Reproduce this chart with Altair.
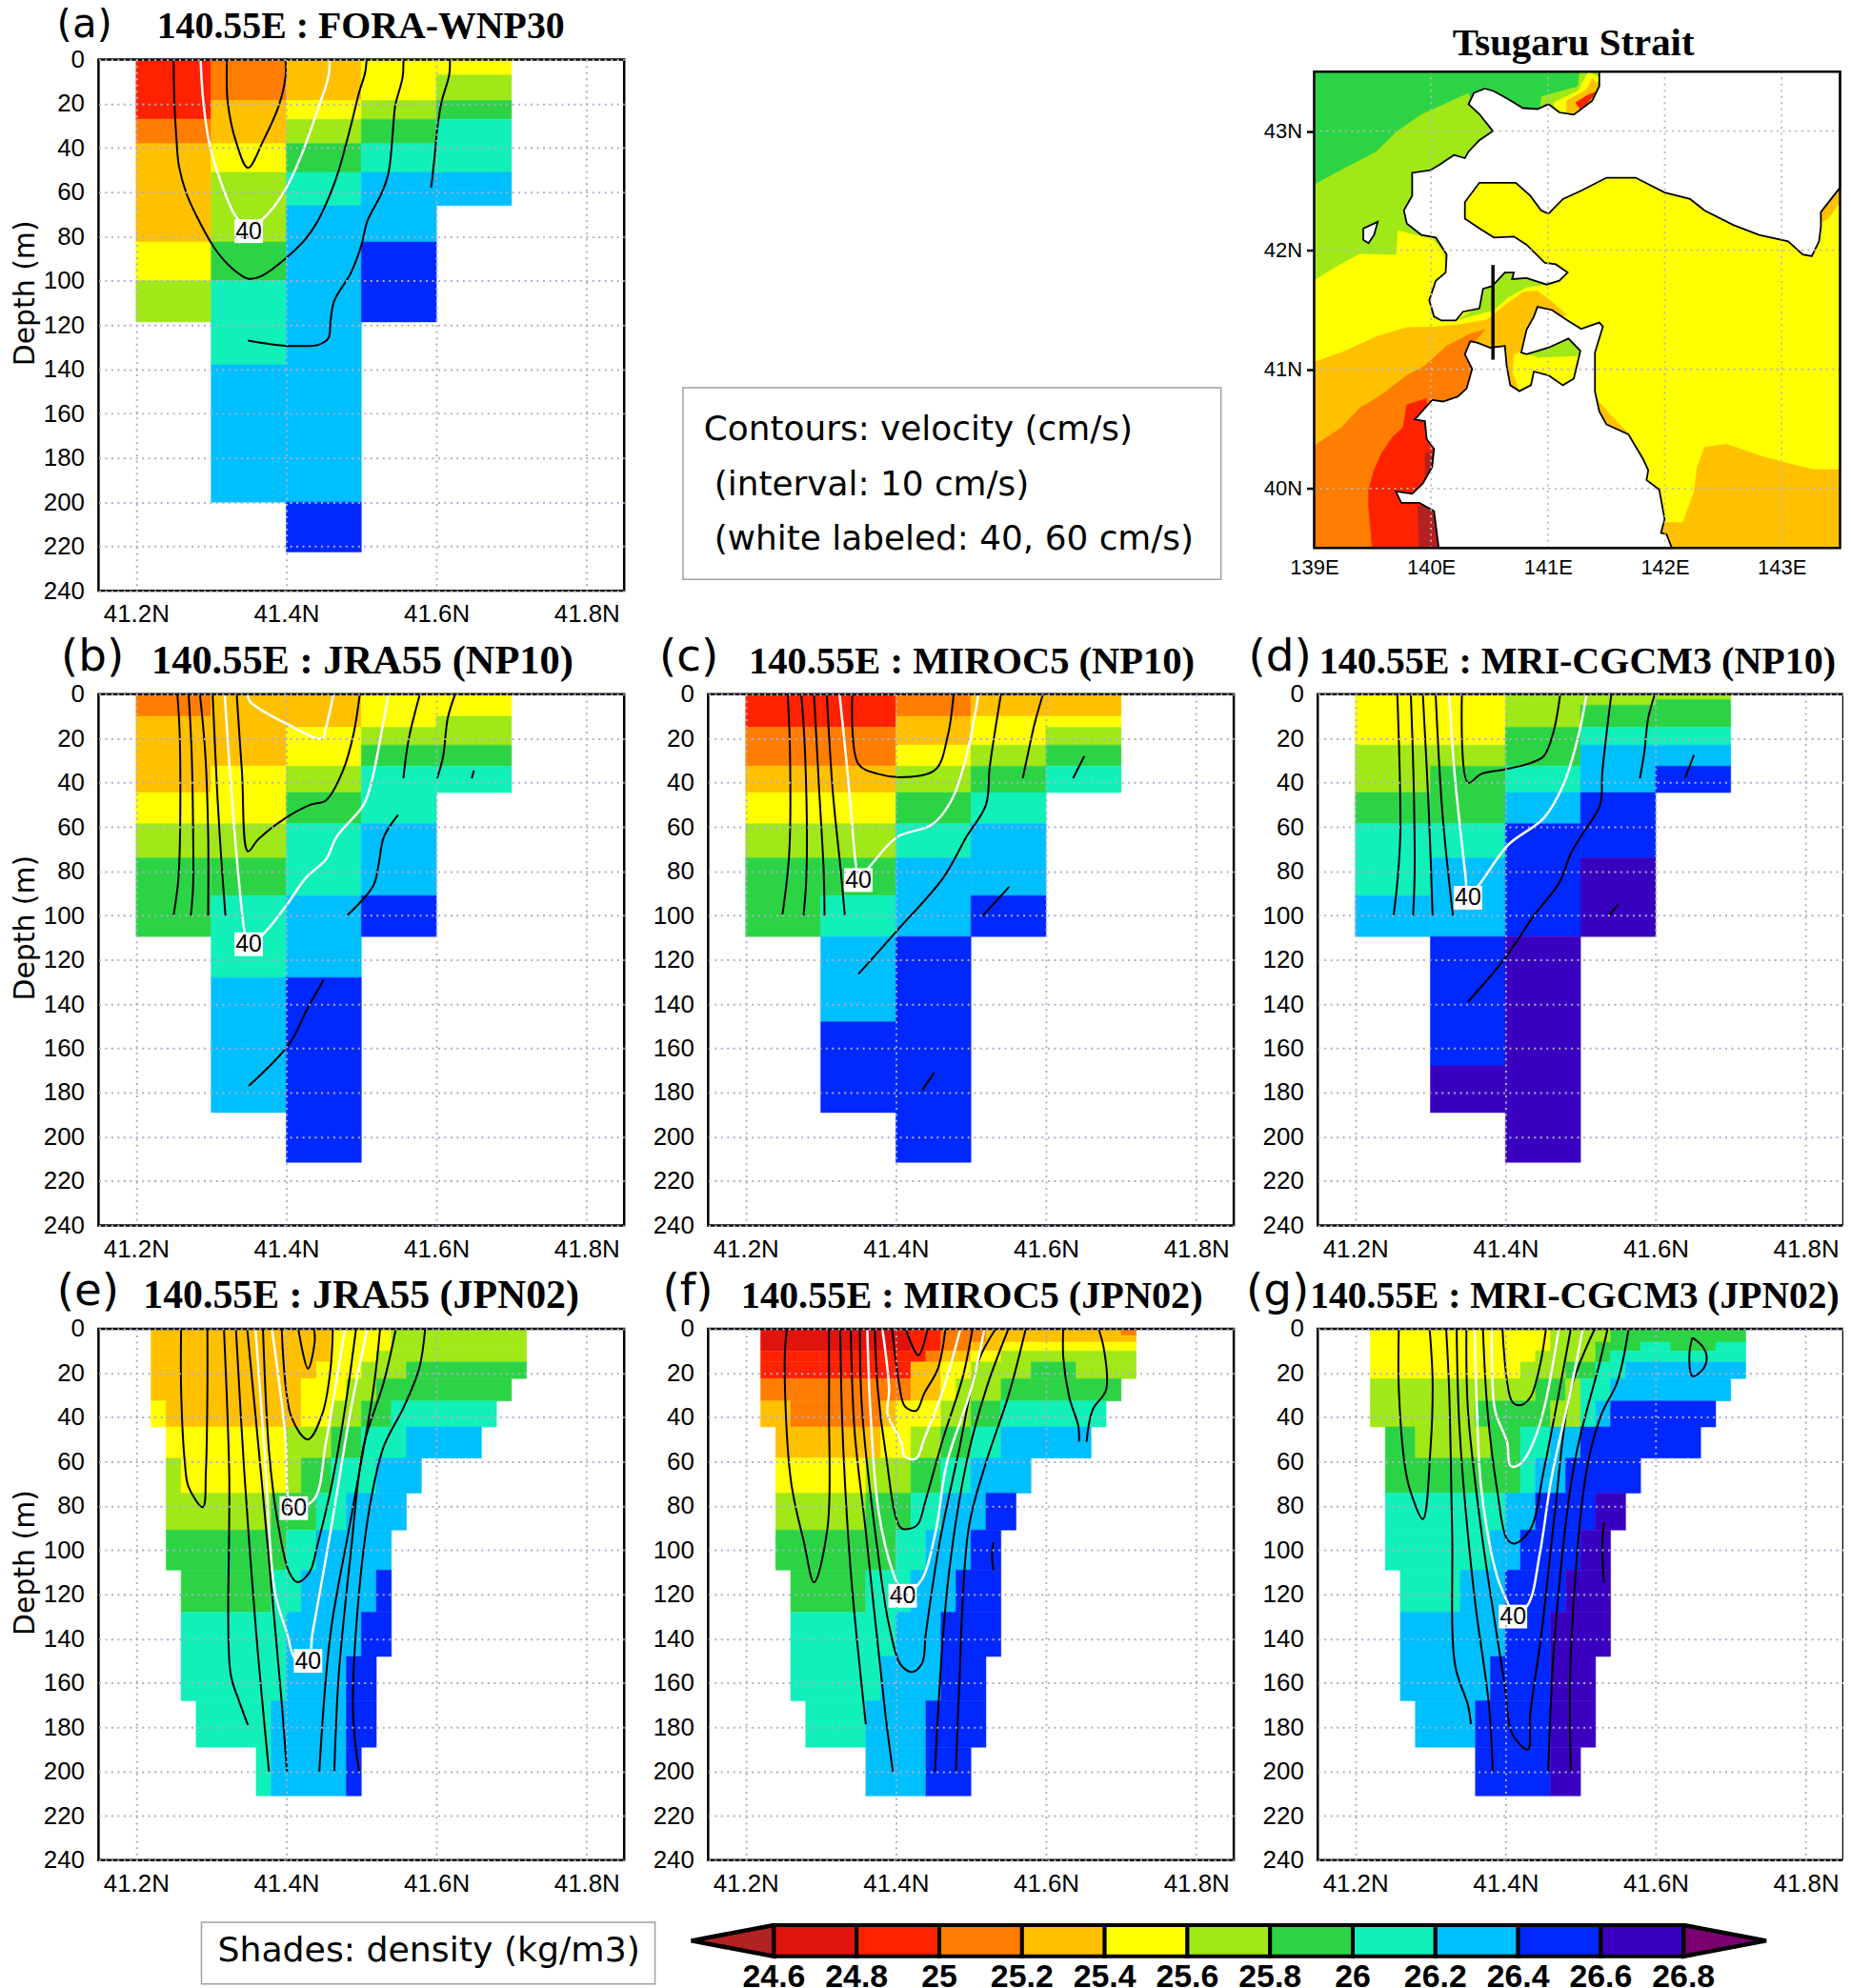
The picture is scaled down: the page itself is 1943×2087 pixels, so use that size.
import altair as alt
import pandas as pd

# density classes
DR, R, O, A, Y, L, G, T, S, B, I = 1, 2, 3, 4, 5, 6, 7, 8, 9, 10, 11
BRICK, PURPLE = 0, 12
CLASS_IDS = list(range(13))
CLASS_COLORS = ["#B22222", "#E0140F", "#FF2200", "#FF7D00", "#FFC000", "#FFFF00", "#A0E818",
                "#2CD445", "#10F0B8", "#00BFFF", "#0028FF", "#3A00C0", "#7B0070"]
BAR_EDGES = [24.6, 24.8, 25.0, 25.2, 25.4, 25.6, 25.8, 26.0, 26.2, 26.4, 26.6, 26.8]
BAR_LABELS = ["24.6", "24.8", "25", "25.2", "25.4", "25.6", "25.8", "26", "26.2", "26.4", "26.6", "26.8"]

# --- panel shading: columns (lat0, lat1, depth edges, classes)
A_COLS = [
    (41.2, 41.3, [0, 27, 38, 82.5, 100, 118.6], [R, O, A, Y, L]),
    (41.3, 41.4, [0, 18.6, 38, 51, 82.5, 100, 138, 200], [O, A, Y, L, G, T, S]),
    (41.4, 41.5, [0, 18.6, 27, 38, 51, 66, 200, 222.5], [A, Y, L, G, T, S, B]),
    (41.5, 41.6, [0, 18.6, 27, 38, 51, 82.5, 118.6], [Y, L, G, T, S, B]),
    (41.6, 41.7, [0, 7, 18.6, 27, 51, 66], [Y, L, G, T, S]),
]
B_COLS = [
    (41.2, 41.3, [0, 10, 44.5, 58.5, 74, 109.5], [O, A, Y, L, G]),
    (41.3, 41.4, [0, 32.5, 58.5, 74, 91, 128, 189], [A, Y, L, G, T, S]),
    (41.4, 41.5, [0, 15, 32.5, 44.5, 58.5, 91, 128, 211.5], [A, Y, L, G, T, S, B]),
    (41.5, 41.6, [0, 15, 23, 32.5, 58.5, 91, 109.5], [Y, L, G, T, S, B]),
    (41.6, 41.7, [0, 10, 23, 32.5, 44.5], [Y, L, G, T]),
]
C_COLS = [
    (41.2, 41.3, [0, 15, 32.5, 44.5, 58.5, 74, 109.5], [R, O, A, Y, L, G]),
    (41.3, 41.4, [0, 15, 32.5, 44.5, 58.5, 74, 91, 109.5, 148, 189], [R, O, A, Y, L, G, T, S, B]),
    (41.4, 41.5, [0, 10, 23, 32.5, 44.5, 58.5, 74, 109.5, 211.5], [O, A, Y, L, G, T, S, B]),
    (41.5, 41.6, [0, 10, 23, 32.5, 44.5, 58.5, 91, 109.5], [A, Y, L, G, T, S, B]),
    (41.6, 41.7, [0, 10, 15, 23, 32.5, 44.5], [A, Y, L, G, T]),
]
D_COLS = [
    (41.2, 41.3, [0, 23, 44.5, 58.5, 91, 109.5], [Y, L, G, T, S]),
    (41.3, 41.4, [0, 23, 32.5, 58.5, 74, 109.5, 168, 189], [Y, L, G, T, S, B, I]),
    (41.4, 41.5, [0, 15, 32.5, 44.5, 58.5, 109.5, 211.5], [L, G, T, S, B, I]),
    (41.5, 41.6, [0, 5, 15, 23, 44.5, 74, 109.5], [L, G, T, S, B, I]),
    (41.6, 41.7, [0, 2.5, 15, 23, 32.5, 44.5], [L, G, T, S, B]),
]
# --- rows (depth0, depth1, lat edges, classes)
E_ROWS = [
    (0, 10, [41.22, 41.46, 41.54, 41.72], [A, Y, L]),
    (10, 15, [41.22, 41.46, 41.52, 41.72], [A, Y, L]),
    (15, 22.5, [41.22, 41.44, 41.50, 41.56, 41.72], [A, Y, L, G]),
    (22.5, 32.6, [41.22, 41.42, 41.48, 41.52, 41.70], [A, Y, L, G]),
    (32.6, 44.3, [41.22, 41.24, 41.42, 41.46, 41.50, 41.54, 41.68], [Y, A, Y, L, G, T]),
    (44.3, 58.4, [41.24, 41.40, 41.46, 41.50, 41.56, 41.66], [Y, L, G, T, S]),
    (58.4, 74.2, [41.24, 41.26, 41.40, 41.42, 41.46, 41.52, 41.58], [L, Y, L, G, T, S]),
    (74.2, 90.9, [41.24, 41.38, 41.44, 41.48, 41.56], [L, G, T, S]),
    (90.9, 109, [41.24, 41.40, 41.44, 41.54], [G, T, S]),
    (109, 128, [41.26, 41.38, 41.42, 41.52, 41.54], [G, T, S, B]),
    (128, 148, [41.26, 41.40, 41.50, 41.54], [T, S, B]),
    (148, 168, [41.26, 41.40, 41.48, 41.52], [T, S, B]),
    (168, 189, [41.28, 41.38, 41.48, 41.52], [T, S, B]),
    (189, 211, [41.36, 41.38, 41.48, 41.50], [T, S, B]),
]
F_ROWS = [
    (0, 3, [41.22, 41.42, 41.46, 41.52, 41.70, 41.72], [DR, R, O, A, O]),
    (3, 6, [41.22, 41.42, 41.46, 41.52, 41.72], [DR, R, O, A]),
    (6, 10, [41.22, 41.42, 41.46, 41.50, 41.54, 41.72], [DR, R, O, A, Y]),
    (10, 15, [41.22, 41.44, 41.46, 41.50, 41.54, 41.72], [R, O, A, Y, L]),
    (15, 22.5, [41.22, 41.42, 41.46, 41.50, 41.58, 41.64, 41.72], [R, A, Y, L, G, L]),
    (22.5, 32.6, [41.22, 41.42, 41.46, 41.48, 41.54, 41.70], [O, A, Y, L, G]),
    (32.6, 44.3, [41.22, 41.26, 41.38, 41.40, 41.46, 41.50, 41.54, 41.68], [A, O, A, Y, L, G, T]),
    (44.3, 58.4, [41.24, 41.38, 41.42, 41.46, 41.50, 41.54, 41.66], [A, Y, L, G, T, S]),
    (58.4, 74.2, [41.24, 41.36, 41.42, 41.46, 41.50, 41.58], [Y, L, G, T, S]),
    (74.2, 90.9, [41.24, 41.36, 41.42, 41.46, 41.52, 41.56], [L, G, T, S, B]),
    (90.9, 109, [41.24, 41.40, 41.44, 41.50, 41.54], [G, T, S, B]),
    (109, 128, [41.26, 41.36, 41.42, 41.48, 41.54], [G, T, S, B]),
    (128, 148, [41.26, 41.40, 41.46, 41.54], [T, S, B]),
    (148, 168, [41.26, 41.38, 41.46, 41.52], [T, S, B]),
    (168, 189, [41.28, 41.36, 41.44, 41.52], [T, S, B]),
    (189, 211, [41.36, 41.44, 41.50], [S, B]),
]
G_ROWS = [
    (0, 6, [41.22, 41.46, 41.54, 41.72], [Y, L, G]),
    (6, 10, [41.22, 41.46, 41.52, 41.58, 41.62, 41.68, 41.72], [Y, L, G, T, G, T]),
    (10, 15, [41.22, 41.44, 41.52, 41.54, 41.72], [Y, L, G, T]),
    (15, 22.5, [41.22, 41.42, 41.48, 41.52, 41.56, 41.72], [Y, L, G, T, S]),
    (22.5, 32.6, [41.22, 41.44, 41.48, 41.50, 41.54, 41.70], [L, G, L, T, S]),
    (32.6, 44.3, [41.22, 41.36, 41.46, 41.50, 41.52, 41.54, 41.68], [L, G, L, T, S, B]),
    (44.3, 58.4, [41.24, 41.28, 41.38, 41.42, 41.46, 41.50, 41.66], [G, L, G, T, S, B]),
    (58.4, 74.2, [41.24, 41.42, 41.44, 41.48, 41.58], [G, T, S, B]),
    (74.2, 90.9, [41.24, 41.40, 41.44, 41.52, 41.56], [T, S, B, I]),
    (90.9, 109, [41.24, 41.38, 41.42, 41.50, 41.54], [T, S, B, I]),
    (109, 128, [41.26, 41.34, 41.40, 41.48, 41.54], [T, S, B, I]),
    (128, 148, [41.26, 41.40, 41.46, 41.54], [S, B, I]),
    (148, 168, [41.26, 41.38, 41.46, 41.52], [S, B, I]),
    (168, 189, [41.28, 41.36, 41.46, 41.52], [S, B, I]),
    (189, 211, [41.36, 41.46, 41.50], [B, I]),
]

# --- contours (lat, depth)
A_BLACK = [
    [(41.25, 0), (41.251, 19), (41.254, 37), (41.257, 48), (41.267, 60.5), (41.284, 73), (41.306, 86), (41.328, 94.4), (41.349, 99), (41.366, 98), (41.399, 90), (41.426, 81), (41.442, 73), (41.459, 60.5), (41.47, 50), (41.486, 30), (41.497, 15), (41.505, 6), (41.507, 0)],
    [(41.321, 0), (41.322, 19), (41.333, 37), (41.349, 49), (41.369, 37), (41.39, 21), (41.399, 8), (41.399, 0)],
    [(41.556, 0), (41.555, 8), (41.545, 21), (41.543, 28), (41.541, 37), (41.536, 51.5), (41.527, 60.5), (41.508, 73), (41.5, 84), (41.486, 96.5), (41.464, 109), (41.459, 118), (41.456, 126), (41.442, 129), (41.421, 129.5), (41.388, 129), (41.349, 127)],
    [(41.618, 0), (41.617, 7), (41.607, 19), (41.601, 31.5), (41.598, 42.5), (41.593, 58)],
]
A_WHITE = [[(41.286, 0), (41.289, 17), (41.297, 37), (41.311, 53.5), (41.333, 71), (41.35, 76), (41.369, 72), (41.399, 58.7), (41.421, 42.5), (41.442, 22.6), (41.456, 8), (41.458, 0)]]
A_LABELS = [(41.35, 77.6, "40")]

B_BLACK = [
    [(41.255, 0), (41.258, 17), (41.259, 44), (41.258, 72), (41.256, 85), (41.25, 100)],
    [(41.27, 0), (41.274, 26), (41.276, 63), (41.276, 86.5), (41.273, 100)],
    [(41.285, 0), (41.292, 26), (41.296, 63), (41.296, 100)],
    [(41.302, 0), (41.308, 44), (41.313, 72), (41.319, 100)],
    [(41.334, 0), (41.341, 35), (41.349, 71), (41.363, 65.5), (41.399, 56), (41.432, 50), (41.453, 48), (41.475, 35), (41.489, 19), (41.498, 0)],
    [(41.578, 0), (41.563, 20.5), (41.556, 38)],
    [(41.625, 0), (41.615, 11), (41.609, 28), (41.601, 38)],
    [(41.65, 34.5), (41.647, 38)],
    [(41.549, 54.5), (41.53, 64.5), (41.523, 77), (41.516, 86.5), (41.481, 100)],
    [(41.45, 129), (41.429, 141.5), (41.404, 158), (41.35, 177)],
]
B_WHITE = [
    [(41.318, 0), (41.325, 35), (41.336, 81), (41.345, 108.5), (41.349, 113), (41.369, 108.5), (41.399, 96), (41.426, 83), (41.453, 74.6), (41.467, 64.5), (41.503, 50), (41.514, 39), (41.527, 17), (41.536, 0)],
    [(41.349, 0), (41.351, 3), (41.404, 14), (41.448, 20), (41.453, 15), (41.463, 0)],
]
B_LABELS = [(41.35, 113, "40")]

C_BLACK = [
    [(41.256, 0), (41.259, 26), (41.258, 72), (41.249, 99.5)],
    [(41.274, 0), (41.279, 26), (41.281, 81), (41.277, 100)],
    [(41.291, 0), (41.298, 44), (41.304, 81), (41.305, 100)],
    [(41.308, 0), (41.316, 44), (41.327, 81), (41.332, 100)],
    [(41.342, 0), (41.35, 31.5), (41.376, 36), (41.412, 37.5), (41.453, 34), (41.469, 19), (41.477, 0)],
    [(41.54, 0), (41.525, 33), (41.52, 50), (41.494, 64.5), (41.463, 83), (41.402, 106.7), (41.35, 126.5)],
    [(41.596, 0), (41.585, 13), (41.574, 30), (41.569, 38)],
    [(41.651, 28), (41.636, 38)],
    [(41.551, 87), (41.516, 100)],
    [(41.451, 171), (41.435, 179)],
]
C_WHITE = [[(41.325, 0), (41.335, 33), (41.347, 78), (41.35, 84), (41.365, 78), (41.402, 64.5), (41.448, 59), (41.474, 48), (41.494, 28), (41.51, 0)]]
C_LABELS = [(41.35, 84, "40")]

D_BLACK = [
    [(41.256, 0), (41.26, 63), (41.256, 85), (41.251, 100)],
    [(41.274, 0), (41.278, 44), (41.279, 81), (41.277, 100)],
    [(41.29, 0), (41.298, 53.5), (41.303, 100)],
    [(41.307, 0), (41.316, 53.5), (41.33, 100)],
    [(41.342, 0), (41.35, 40), (41.368, 36), (41.399, 34), (41.43, 31.5), (41.451, 28), (41.464, 17), (41.473, 0)],
    [(41.541, 0), (41.529, 35), (41.526, 50), (41.503, 63), (41.487, 72), (41.472, 85), (41.438, 100), (41.399, 119.5), (41.35, 139)],
    [(41.599, 0), (41.59, 11), (41.585, 26), (41.579, 38)],
    [(41.651, 27.5), (41.639, 38)],
    [(41.55, 95), (41.538, 100)],
]
D_WHITE = [[(41.325, 0), (41.332, 35), (41.347, 83), (41.35, 92), (41.366, 85.6), (41.404, 68), (41.451, 56), (41.477, 41), (41.497, 19), (41.508, 0)]]
D_LABELS = [(41.35, 92, "40")]

E_BLACK = [
    [(41.26, 0), (41.26, 27.5), (41.265, 60.5), (41.27, 71.5), (41.289, 80.6), (41.293, 64), (41.295, 27.5), (41.295, 0)],
    [(41.317, 0), (41.324, 64), (41.326, 156), (41.336, 167), (41.349, 179)],
    [(41.333, 0), (41.344, 64), (41.36, 137.5), (41.377, 200)],
    [(41.348, 0), (41.366, 64), (41.393, 165), (41.401, 200)],
    [(41.394, 0), (41.407, 40), (41.429, 50), (41.448, 38.5), (41.459, 18), (41.462, 0)],
    [(41.416, 0), (41.429, 18), (41.438, 5.5), (41.437, 0)],
    [(41.369, 0), (41.377, 55), (41.388, 86), (41.404, 110), (41.415, 114.5), (41.431, 110), (41.442, 97), (41.459, 73), (41.478, 36.6), (41.493, 0)],
    [(41.525, 0), (41.516, 27.5), (41.486, 86), (41.459, 137.5), (41.444, 200)],
    [(41.546, 0), (41.53, 24), (41.503, 53), (41.486, 101), (41.47, 156), (41.464, 200)],
    [(41.585, 0), (41.577, 18), (41.557, 35), (41.53, 53), (41.514, 75), (41.497, 119), (41.489, 174), (41.497, 200)],
]
E_WHITE = [
    [(41.359, 0), (41.371, 55), (41.385, 119), (41.401, 137.5), (41.412, 149), (41.429, 150), (41.435, 137.5), (41.459, 91.6), (41.486, 36.6), (41.508, 0)],
    [(41.381, 0), (41.399, 49.5), (41.403, 77), (41.41, 81), (41.437, 77), (41.453, 51), (41.478, 0)],
]
E_LABELS = [(41.41, 81, "60"), (41.429, 150, "40")]

F_BLACK = [
    [(41.255, 0), (41.252, 13), (41.26, 68), (41.278, 97), (41.291, 114.5), (41.309, 90), (41.311, 36.6), (41.311, 0)],
    [(41.326, 0), (41.329, 46), (41.34, 110), (41.36, 178.6)],
    [(41.34, 0), (41.345, 46), (41.36, 91.6), (41.386, 174), (41.396, 200)],
    [(41.352, 0), (41.355, 36.6), (41.376, 101), (41.391, 134), (41.407, 152), (41.422, 155), (41.435, 151), (41.44, 137.5), (41.458, 97), (41.484, 55), (41.51, 14.6), (41.533, 0)],
    [(41.372, 0), (41.376, 27.5), (41.386, 55), (41.407, 90), (41.422, 90), (41.43, 88), (41.44, 77), (41.463, 49.5), (41.489, 22), (41.502, 0)],
    [(41.395, 0), (41.404, 24), (41.412, 35), (41.427, 37), (41.438, 29), (41.456, 18), (41.466, 0)],
    [(41.413, 0), (41.43, 12), (41.441, 2), (41.442, 0)],
    [(41.55, 0), (41.52, 27.5), (41.494, 60.5), (41.469, 115.5), (41.452, 200)],
    [(41.573, 0), (41.551, 29), (41.52, 60.5), (41.497, 90), (41.484, 165), (41.48, 200)],
    [(41.623, 0), (41.623, 13), (41.631, 31), (41.643, 44), (41.644, 51)],
    [(41.67, 0), (41.677, 9), (41.68, 27.5), (41.662, 36.6), (41.654, 51)],
    [(41.53, 96.5), (41.528, 102.6), (41.53, 109)],
]
F_WHITE = [
    [(41.362, 0), (41.366, 36.6), (41.377, 82.5), (41.396, 110), (41.409, 119.5), (41.412, 120.6), (41.435, 113), (41.453, 91.6), (41.468, 60.5), (41.5, 27.5), (41.518, 0)],
    [(41.382, 0), (41.391, 27.5), (41.389, 38.5), (41.407, 51), (41.412, 57.7), (41.427, 58.6), (41.438, 49.5), (41.463, 27.5), (41.486, 0)],
]
F_LABELS = [(41.409, 120.6, "40")]

G_BLACK = [
    [(41.258, 0), (41.258, 27.5), (41.267, 64), (41.275, 75), (41.29, 86), (41.3, 55), (41.303, 24), (41.299, 0)],
    [(41.321, 0), (41.325, 27.5), (41.329, 91.6), (41.333, 152), (41.35, 170), (41.354, 178.6)],
    [(41.335, 0), (41.339, 46), (41.358, 119), (41.378, 170), (41.383, 200)],
    [(41.348, 0), (41.35, 36.6), (41.368, 91.6), (41.399, 161), (41.409, 183), (41.43, 190), (41.433, 174), (41.448, 137.5), (41.466, 82.5), (41.487, 27.5), (41.519, 0)],
    [(41.37, 0), (41.376, 36.6), (41.389, 73), (41.402, 95), (41.412, 97), (41.433, 90.7), (41.451, 64), (41.472, 27.5), (41.487, 0)],
    [(41.396, 0), (41.409, 33), (41.42, 34.5), (41.433, 31), (41.446, 16.5), (41.454, 0)],
    [(41.536, 0), (41.526, 14.6), (41.492, 60.5), (41.466, 137.5), (41.457, 200)],
    [(41.564, 0), (41.549, 24), (41.528, 38.5), (41.508, 64), (41.487, 146.6), (41.487, 200)],
    [(41.649, 4), (41.645, 11), (41.649, 21.4), (41.663, 18.3), (41.668, 12.8), (41.663, 8.2), (41.649, 4)],
    [(41.531, 87.6), (41.529, 97), (41.531, 114.5)],
]
G_WHITE = [
    [(41.359, 0), (41.362, 36.6), (41.368, 73), (41.389, 112), (41.404, 124.6), (41.41, 130), (41.43, 124.6), (41.446, 101), (41.461, 68), (41.487, 27.5), (41.503, 0)],
    [(41.382, 0), (41.386, 36.6), (41.402, 51), (41.407, 62), (41.42, 61), (41.435, 53), (41.451, 36.6), (41.471, 0)],
]
G_LABELS = [(41.41, 130, "40")]

# --- map polygons (lon, lat)
MAP_LIME = [(139, 43.5), (141.44, 43.5), (141.44, 43.143), (140.321, 42.513), (140.134, 41.854), (140.103, 41.991), (140.01, 42.101), (139.824, 42.142), (139.715, 42.17), (139.699, 41.964), (139.389, 41.972), (139.171, 41.854), (139, 41.75)]
MAP_LIME2 = [(140.212, 41.41), (140.414, 41.525), (140.445, 41.69), (140.632, 41.827), (141.005, 41.717), (140.818, 41.69), (140.663, 41.607), (140.538, 41.498), (140.383, 41.456)]
MAP_LIME3 = [(140.818, 41.127), (141.176, 41.264), (141.278, 41.155), (141.253, 41.114), (140.911, 41.1)]
MAP_GREEN = [(139, 43.5), (141.269, 43.5), (141.253, 43.377), (140.943, 43.294), (140.927, 43.171), (140.383, 43.171), (140.321, 43.322), (139.917, 43.143), (139.699, 42.993), (139.528, 42.828), (139.233, 42.677), (139, 42.554)]
TIP_YELLOW = [(141.347, 43.5), (141.44, 43.445), (141.253, 43.13), (141.067, 43.157), (141.051, 43.239), (141.253, 43.335)]
TIP_AMBER = [(141.378, 43.445), (141.44, 43.377), (141.238, 43.13), (141.16, 43.157), (141.16, 43.253), (141.331, 43.349)]
TIP_RED = [(141.424, 43.335), (141.284, 43.171), (141.238, 43.239), (141.347, 43.308)]
MAP_AMBER = [(139, 41.059), (139.233, 41.141), (139.544, 41.278), (139.793, 41.352), (140.01, 41.355), (140.228, 41.374), (140.476, 41.415), (140.632, 41.539), (140.787, 41.648), (140.911, 41.657), (141.036, 41.566), (141.16, 41.456), (140.911, 41.415), (140.756, 41.141), (140.709, 41.127), (140.694, 40.976), (140.756, 40.812), (140.321, 40.757), (140.01, 40.318), (140.01, 39.5), (139, 39.5)]
MAP_AMBER2 = [(141.968, 39.715), (142.155, 39.715), (142.248, 39.962), (142.279, 40.181), (142.341, 40.346), (142.528, 40.373), (142.807, 40.277), (143.118, 40.195), (143.273, 40.159), (143.5, 40.159), (143.5, 39.5), (141.999, 39.5)]
MAP_AMBER3 = [(141.408, 40.757), (141.533, 40.62), (141.72, 40.428), (141.564, 40.455), (141.424, 40.62)]
MAP_AMBER4 = [(143.5, 42.526), (143.5, 42.403), (143.398, 42.266), (143.304, 42.211), (143.336, 42.348)]
MAP_ORANGE = [(139, 40.359), (139.233, 40.51), (139.389, 40.675), (139.575, 40.784), (139.793, 40.949), (139.948, 41.031), (140.134, 41.196), (140.321, 41.292), (140.461, 41.333), (140.321, 41.168), (140.383, 41.004), (140.29, 40.757), (140.01, 40.702), (139.948, 40.592), (140.01, 40.318), (140.072, 39.5), (139, 39.5)]
MAP_RED = [(139.497, 39.5), (139.466, 39.852), (139.466, 39.989), (139.513, 40.153), (139.575, 40.29), (139.668, 40.428), (139.761, 40.51), (139.793, 40.702), (139.963, 40.757), (139.963, 40.702), (140.01, 40.455), (140.041, 40.044), (140.072, 39.5)]
MAP_DARK = [(139.901, 39.5), (139.886, 39.852), (140.041, 39.852), (140.072, 39.5)]
MAP_DARK2 = [(139.948, 40.29), (140.026, 40.318), (140.026, 40.181), (139.948, 40.097)]
LAND_NORTH = [(140.461, 43.357), (140.368, 43.322), (140.321, 43.226), (140.414, 43.143), (140.529, 43.0), (140.414, 42.924), (140.321, 42.828), (140.29, 42.773), (140.197, 42.8), (140.072, 42.718), (139.995, 42.672), (139.839, 42.65), (139.839, 42.458), (139.768, 42.334), (139.793, 42.224), (139.917, 42.129), (140.041, 42.107), (140.134, 41.964), (140.125, 41.813), (140.041, 41.744), (139.985, 41.58), (140.026, 41.443), (140.088, 41.41), (140.212, 41.41), (140.274, 41.484), (140.414, 41.511), (140.445, 41.676), (140.523, 41.698), (140.632, 41.813), (140.709, 41.813), (140.694, 41.758), (140.818, 41.766), (140.989, 41.712), (141.098, 41.744), (141.169, 41.813), (141.067, 41.882), (140.974, 41.895), (140.818, 42.046), (140.709, 42.115), (140.538, 42.107), (140.414, 42.183), (140.29, 42.266), (140.29, 42.403), (140.414, 42.567), (140.725, 42.567), (140.849, 42.458), (140.943, 42.334), (141.005, 42.307), (141.129, 42.43), (141.284, 42.499), (141.502, 42.609), (141.751, 42.609), (141.999, 42.485), (142.217, 42.43), (142.341, 42.334), (142.59, 42.211), (142.807, 42.129), (143.056, 42.074), (143.18, 41.964), (143.258, 41.95), (143.32, 42.074), (143.336, 42.197), (143.336, 42.32), (143.5, 42.526), (143.5, 43.5), (141.44, 43.5), (141.44, 43.377), (141.378, 43.253), (141.222, 43.138), (141.098, 43.157), (141.005, 43.226), (140.911, 43.185), (140.787, 43.193), (140.663, 43.267), (140.538, 43.335), (140.461, 43.357)]
LAND_SOUTH = [(140.336, 41.237), (140.29, 41.127), (140.352, 41.004), (140.305, 40.839), (140.228, 40.771), (140.103, 40.73), (140.01, 40.743), (139.861, 40.579), (139.948, 40.565), (139.963, 40.414), (140.026, 40.332), (140.01, 40.181), (139.932, 40.044), (139.839, 39.956), (139.699, 39.975), (139.746, 39.879), (139.901, 39.879), (140.026, 39.81), (140.066, 39.5), (142.061, 39.5), (142.015, 39.615), (141.968, 39.628), (141.999, 39.742), (141.953, 39.99), (141.844, 40.071), (141.859, 40.153), (141.813, 40.25), (141.688, 40.455), (141.502, 40.537), (141.44, 40.647), (141.403, 40.812), (141.403, 41.141), (141.471, 41.36), (141.44, 41.393), (141.284, 41.339), (141.16, 41.415), (141.036, 41.498), (140.911, 41.525), (140.88, 41.443), (140.818, 41.333), (140.772, 41.141), (140.818, 41.127), (141.005, 41.182), (141.176, 41.259), (141.278, 41.155), (141.222, 40.922), (141.129, 40.867), (141.005, 40.949), (140.88, 40.982), (140.855, 40.867), (140.756, 40.817), (140.678, 40.867), (140.647, 41.031), (140.632, 41.196), (140.507, 41.182), (140.399, 41.223), (140.336, 41.237)]
ISLAND = [(139.42, 42.183), (139.544, 42.238), (139.513, 42.129), (139.466, 42.06), (139.42, 42.087), (139.42, 42.183)]
SECTION_LINE = [(140.53, 41.876), (140.53, 41.081)]

FONT_SANS = "DejaVu Sans"
FONT_TICK = "Liberation Sans"
FONT_TITLE = "Liberation Serif"
GRID = "#aeaecb"

PW, PH = 554, 560
XDOM = [41.15, 41.85]
x_scale = alt.Scale(domain=XDOM, nice=False, zero=False)
y_scale = alt.Scale(domain=[240, 0], nice=False, zero=False)
color_scale = alt.Scale(domain=CLASS_IDS, range=CLASS_COLORS)


def cols_cells(cols):
    rows = []
    for x0, x1, edges, classes in cols:
        for k, c in enumerate(classes):
            rows.append(dict(x0=x0, x1=x1, d0=edges[k], d1=edges[k + 1], c=c))
    return rows


def rows_cells(rws):
    rows = []
    for d0, d1, edges, classes in rws:
        for k, c in enumerate(classes):
            rows.append(dict(x0=edges[k], x1=edges[k + 1], d0=d0, d1=d1, c=c))
    return rows


def lines_df(lines):
    return pd.DataFrame([dict(id=n, i=i, lat=p[0], depth=p[1]) for n, l in enumerate(lines) for i, p in enumerate(l)])


def txt(text, x, y, size, font, weight="normal", align="left", color="black"):
    return alt.Chart(pd.DataFrame({"t": [text]})).mark_text(
        font=font, fontSize=size, fontWeight=weight, align=align, baseline="alphabetic", color=color
    ).encode(x=alt.value(x), y=alt.value(y), text="t:N")


def section(cells, black, white, labels, letter, lx, ly, lsize, title, tx, ty, tsize, show_title):
    xaxis = alt.Axis(values=[41.2, 41.4, 41.6, 41.8], labelExpr="format(datum.value,'.1f')+'N'", title=None,
                     grid=True, gridColor=GRID, gridDash=[2, 4.5], gridWidth=2, domain=False, ticks=False,
                     labelFont=FONT_TICK, labelFontSize=26, labelColor="black", labelPadding=12, zindex=1,
                     labelBaseline="top", labelFlush=False, labelOverlap=False)
    yargs = dict(title="Depth (m)", titleFont=FONT_SANS, titleFontSize=30, titleFontWeight="normal", titleColor="black",
                 titleX=-68, titleY=246, titleAngle=270, titleAlign="center", titleBaseline="alphabetic") if show_title else dict(title=None)
    yaxis = alt.Axis(values=list(range(0, 241, 20)), grid=True, gridColor=GRID, gridDash=[2, 4.5], gridWidth=2,
                     domain=False, ticks=False, labelFont=FONT_TICK, labelFontSize=26, labelColor="black",
                     labelPadding=15, zindex=1, labelFlush=False, labelOverlap=False, **yargs)
    x_plain = alt.X("lat:Q", scale=x_scale, axis=xaxis)
    y_plain = alt.Y("depth:Q", scale=y_scale, axis=yaxis)
    layers = [
        alt.Chart(pd.DataFrame(cells)).mark_rect(strokeWidth=0.5).encode(
            x=alt.X("x0:Q", scale=x_scale, axis=xaxis), x2="x1:Q",
            y=alt.Y("d0:Q", scale=y_scale, axis=yaxis), y2="d1:Q",
            fill=alt.Fill("c:O", scale=color_scale, legend=None),
            stroke=alt.Stroke("c:O", scale=color_scale, legend=None)),
        alt.Chart(lines_df(black)).mark_line(color="black", strokeWidth=2, interpolate="catmull-rom").encode(
            x=x_plain, y=y_plain, detail="id:N", order="i:Q"),
        alt.Chart(lines_df(white)).mark_line(color="white", strokeWidth=2.5, interpolate="catmull-rom").encode(
            x=x_plain, y=y_plain, detail="id:N", order="i:Q"),
    ]
    ldf = pd.DataFrame(labels, columns=["lat", "depth", "t"])
    layers.append(alt.Chart(ldf).mark_rect(width=30, height=25, fill="white").encode(x=x_plain, y=y_plain))
    layers.append(alt.Chart(ldf).mark_text(font=FONT_TICK, fontSize=25, color="black", baseline="middle").encode(
        x=x_plain, y=y_plain, text="t:N"))
    frame = pd.DataFrame({"a": [XDOM[0]], "b": [XDOM[1]], "c": [240], "d": [0]})
    layers.append(alt.Chart(frame).mark_rect(fillOpacity=0, stroke="black", strokeWidth=2.5).encode(
        x=alt.X("a:Q", scale=x_scale, axis=xaxis), x2="b:Q", y=alt.Y("c:Q", scale=y_scale, axis=yaxis), y2="d:Q"))
    layers.append(txt(letter, lx, ly, lsize, FONT_SANS))
    layers.append(txt(title, tx, ty, tsize, FONT_TITLE, weight="bold"))
    return alt.layer(*layers).properties(width=PW, height=PH)


# --- map panel
lon_scale = alt.Scale(domain=[139, 143.5], range=[-3.8, 550.5], nice=False, zero=False)
lat_scale = alt.Scale(domain=[39.5, 43.5], range=[515, 12.8], nice=False, zero=False)
lon_axis = alt.Axis(values=[139, 140, 141, 142, 143], labelExpr="datum.value+'E'", title=None, grid=False,
                    domain=False, ticks=False, labelFont=FONT_TICK, labelFontSize=22, labelColor="black",
                    labelPadding=10, offset=-45, labelFlush=False, labelBaseline="top", labelOverlap=False)
lat_axis = alt.Axis(values=[40, 41, 42, 43], labelExpr="datum.value+'N'", title=None, grid=False,
                    domain=False, ticks=True, tickColor="black", tickSize=8, tickWidth=2.5, labelFont=FONT_TICK, labelFontSize=22,
                    labelColor="black", labelPadding=5, offset=3.8, labelFlush=False, labelOverlap=False)


def poly(points, fill, stroke=None, sw=0):
    df = pd.DataFrame([dict(i=i, lon=p[0], la=p[1]) for i, p in enumerate(points)])
    kw = dict(fill=fill, interpolate="linear")
    kw.update(stroke=stroke if stroke else fill, strokeWidth=sw if stroke else 0.5)
    return alt.Chart(df).mark_line(**kw).encode(
        x=alt.X("lon:Q", scale=lon_scale, axis=lon_axis), y=alt.Y("la:Q", scale=lat_scale, axis=lat_axis), order="i:Q")


C = dict(zip(["Y", "L", "G", "A", "O", "R", "D"], [CLASS_COLORS[5], CLASS_COLORS[6], CLASS_COLORS[7], CLASS_COLORS[4], CLASS_COLORS[3], CLASS_COLORS[2], CLASS_COLORS[0]]))
base = pd.DataFrame({"a": [139], "b": [143.5], "c": [39.5], "d": [43.5]})
mx = alt.X("a:Q", scale=lon_scale, axis=lon_axis)
my = alt.Y("c:Q", scale=lat_scale, axis=lat_axis)
map_layers = [alt.Chart(base).mark_rect(fill=C["Y"]).encode(x=mx, x2="b:Q", y=my, y2="d:Q")]
for pts, col in [(MAP_LIME, "L"), (MAP_LIME2, "L"), (MAP_LIME3, "L"), (MAP_GREEN, "G"), (TIP_YELLOW, "Y"), (TIP_AMBER, "A"), (TIP_RED, "R"),
                 (MAP_AMBER, "A"), (MAP_AMBER2, "A"), (MAP_AMBER3, "A"), (MAP_AMBER4, "A"), (MAP_ORANGE, "O"), (MAP_RED, "R"), (MAP_DARK, "D"), (MAP_DARK2, "D")]:
    map_layers.append(poly(pts, C[col]))
for pts in [LAND_NORTH, LAND_SOUTH, ISLAND]:
    map_layers.append(poly(pts, "white", "black", 1.8))
grid_lon = pd.DataFrame({"a": [140, 141, 142, 143], "c": [39.5] * 4, "d": [43.5] * 4})
grid_lat = pd.DataFrame({"c": [40, 41, 42, 43], "a": [139] * 4, "b": [143.5] * 4})
map_layers.append(alt.Chart(grid_lon).mark_rule(color="#b9b9b9", strokeDash=[2, 4.5], strokeWidth=1.8).encode(
    x=mx, y=my, y2="d:Q"))
map_layers.append(alt.Chart(grid_lat).mark_rule(color="#b9b9b9", strokeDash=[2, 4.5], strokeWidth=1.8).encode(
    x=mx, x2="b:Q", y=my))
sec_df = pd.DataFrame({"a": [SECTION_LINE[0][0]], "c": [SECTION_LINE[1][1]], "d": [SECTION_LINE[0][1]]})
map_layers.append(alt.Chart(sec_df).mark_rule(color="black", strokeWidth=3.5).encode(x=mx, y=my, y2="d:Q"))
map_layers.append(alt.Chart(base).mark_rect(fillOpacity=0, stroke="black", strokeWidth=2.5).encode(x=mx, x2="b:Q", y=my, y2="d:Q"))
map_layers.append(txt("Tsugaru Strait", 269.5, -4, 41, FONT_TITLE, weight="bold", align="center"))
map_panel = alt.layer(*map_layers).properties(width=PW, height=PH)

# --- note box
one = pd.DataFrame({"v": [1]})
note_panel = alt.layer(
    alt.Chart(one).mark_rect(fill="white", stroke="#a0a0a0", strokeWidth=1.5).encode(
        x=alt.value(-26.5), x2=alt.value(540.5), y=alt.value(346), y2=alt.value(548)),
    txt("Contours: velocity (cm/s)", -4.5, 401, 36, FONT_SANS),
    txt("(interval: 10 cm/s)", 6.5, 459, 36, FONT_SANS),
    txt("(white labeled: 40, 60 cm/s)", 6.5, 517, 36, FONT_SANS),
).properties(width=PW, height=PH)

# --- colour bar
bar_scale = alt.Scale(domain=[24.6, 26.8], range=[711.9, 1670.5], nice=False, zero=False)
lev_scale = alt.Scale(domain=[0, 1], range=[-7.5, -40.5], nice=False, zero=False)
bar_cells = pd.DataFrame({"x0": BAR_EDGES[:-1], "x1": BAR_EDGES[1:], "c": CLASS_IDS[1:12], "l0": [0] * 11, "l1": [1] * 11})
bar_labels = pd.DataFrame({"x": BAR_EDGES, "t": BAR_LABELS})


def tri(points, cid):
    df = pd.DataFrame([dict(i=i, x=p[0], l=p[1]) for i, p in enumerate(points)])
    return alt.Chart(df).mark_line(fill=CLASS_COLORS[cid], stroke="black", strokeWidth=4.5).encode(
        x=alt.X("x:Q", scale=bar_scale, axis=None), y=alt.Y("l:Q", scale=lev_scale, axis=None), order="i:Q")


bar_panel = alt.layer(
    alt.Chart(one).mark_rect(fill="white", stroke="#a0a0a0", strokeWidth=1.5).encode(
        x=alt.value(108.5), x2=alt.value(586.5), y=alt.value(-43.5), y2=alt.value(21.5)),
    txt("Shades: density (kg/m3)", 125.5, -2.5, 36.4, FONT_SANS),
    tri([(24.6, 1), (24.4, 0.5), (24.6, 0), (24.6, 1)], BRICK),
    tri([(26.8, 1), (27.0, 0.5), (26.8, 0), (26.8, 1)], PURPLE),
    alt.Chart(bar_cells).mark_rect(stroke="black", strokeWidth=4).encode(
        x=alt.X("x0:Q", scale=bar_scale, axis=None), x2="x1:Q",
        y=alt.Y("l0:Q", scale=lev_scale, axis=None), y2="l1:Q",
        fill=alt.Fill("c:O", scale=color_scale, legend=None)),
    alt.Chart(bar_labels).mark_text(font=FONT_TICK, fontSize=34, fontWeight="bold", color="black", baseline="alphabetic", align="center").encode(
        x=alt.X("x:Q", scale=bar_scale, axis=None), y=alt.value(24.5), text="t:N"),
).properties(width=PW, height=24)

panels = [
    section(cols_cells(A_COLS), A_BLACK, A_WHITE, A_LABELS, "(a)", -44, -23, 42, "140.55E : FORA-WNP30", 61.5, -22, 40, True),
    note_panel,
    map_panel,
    section(cols_cells(B_COLS), B_BLACK, B_WHITE, B_LABELS, "(b)", -39.5, -25, 47, "140.55E : JRA55 (NP10)", 55.8, -22, 42.6, True),
    section(cols_cells(C_COLS), C_BLACK, C_WHITE, C_LABELS, "(c)", -51.5, -25, 47, "140.55E : MIROC5 (NP10)", 42.8, -22, 40.7, False),
    section(cols_cells(D_COLS), D_BLACK, D_WHITE, D_LABELS, "(d)", -73, -25, 47, "140.55E : MRI-CGCM3 (NP10)", 1.5, -22, 40.2, False),
    section(rows_cells(E_ROWS), E_BLACK, E_WHITE, E_LABELS, "(e)", -43.8, -25.5, 47, "140.55E : JRA55 (JPN02)", 47, -22.5, 42, True),
    section(rows_cells(F_ROWS), F_BLACK, F_WHITE, F_LABELS, "(f)", -48, -25.5, 47, "140.55E : MIROC5 (JPN02)", 34.6, -22.5, 40.4, False),
    section(rows_cells(G_ROWS), G_BLACK, G_WHITE, G_LABELS, "(g)", -75.5, -25.5, 47, "140.55E : MRI-CGCM3 (JPN02)", -8, -22.5, 39.7, False),
    bar_panel,
]

chart = alt.concat(*panels, columns=3, spacing=alt.RowColnumber(row=109, column=88.5), bounds="flush").properties(
    autosize=alt.AutoSizeParams(type="none"),
    padding={"left": 95.8, "top": 50.4, "right": 1839, "bottom": 2028},
).configure_view(stroke=None)

chart.save("out.html", embed_options={"renderer": "svg", "actions": False})
